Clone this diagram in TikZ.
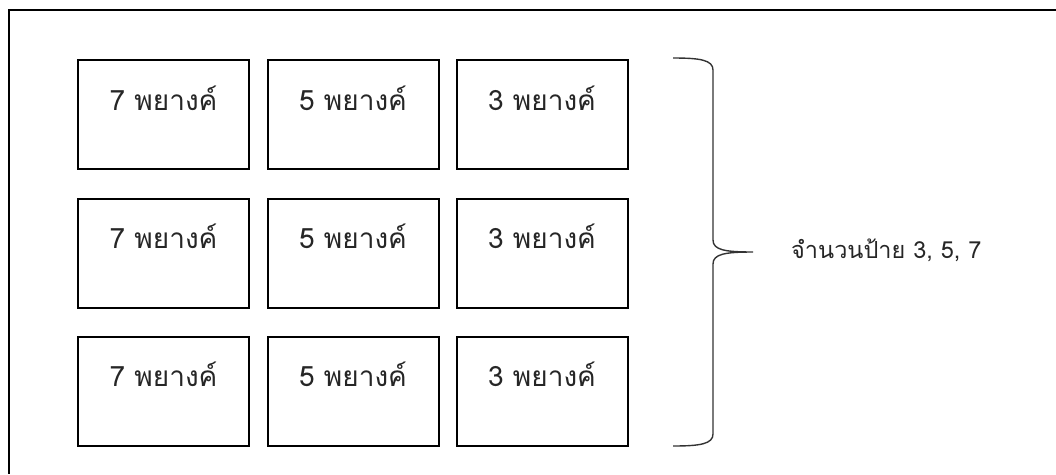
\documentclass[tikz,border=0pt]{standalone}
\usepackage{fontspec}
\usetikzlibrary{calc}
\newfontfamily\thaifont[Script=Thai]{Loma}
\begin{document}
\begin{tikzpicture}[x=1pt,y=-1pt,
  cell/.style={draw=black,line width=2pt,minimum width=171pt,minimum height=109pt,inner sep=0pt,anchor=north west},
  celltext/.style={anchor=base,font=\thaifont\fontsize{28}{32}\selectfont,text=black!85,inner sep=0pt},
  frame/.style={line width=1.5pt},
  bracestyle/.style={line width=1.4pt,black!80}]
\useasboundingbox (0,0) rectangle (1056,474);
% outer frame (only top and left edges visible)
\coordinate (ftl) at (9,10);
\coordinate (ftr) at (1056,10);
\coordinate (fbl) at (9,474);
\draw[frame] (ftr) -- (ftl) -- (fbl);
% boxes
\foreach \r/\y in {1/59,2/197.5,3/335.5}{
  \foreach \c/\x/\n in {1/77/7,2/266.5/5,3/455.5/3}{
    \node[cell] (b\r\c) at (\x,\y) {};
    \node[celltext] (t\r\c) at ($(b\r\c.north)+(0,51)$) {\n\ พยางค์};
  }
}
% brace
\coordinate (btop) at (673,58);
\coordinate (btip) at (753,252);
\coordinate (bbot) at (673,446);
\draw[bracestyle] (btop) .. controls (700,58) and (713,60) .. (713,70) -- (713,240)
  .. controls (713,250) and (725,252) .. (btip)
  .. controls (725,252) and (713,254) .. (713,264) -- (713,434)
  .. controls (713,444) and (700,446) .. (bbot);
\node[anchor=base west,font=\thaifont\fontsize{23.5}{28}\selectfont,text=black!85,inner sep=0pt] (lbl) at (791,258) {จำนวนป้าย 3, 5, 7};
\end{tikzpicture}
\end{document}
